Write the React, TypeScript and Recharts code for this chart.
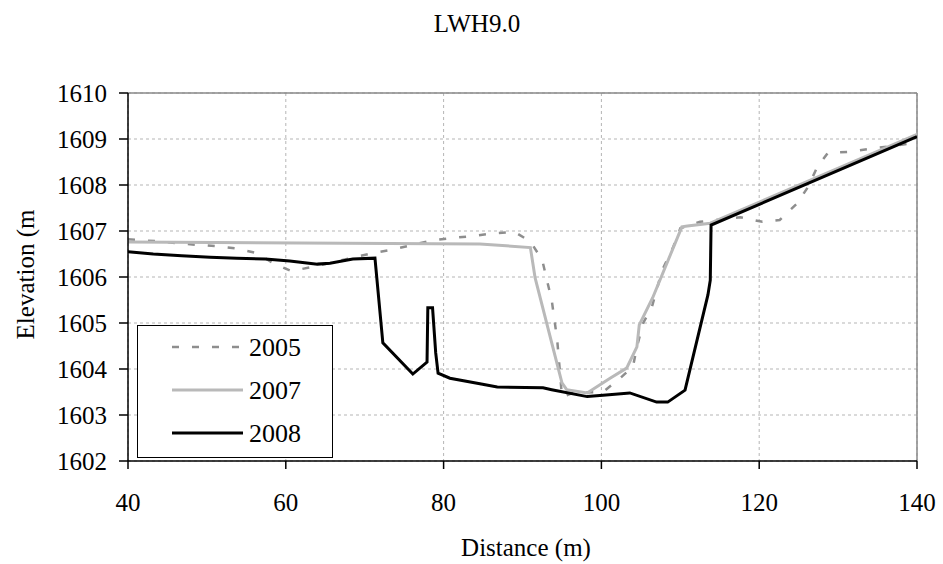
import React from 'react';
import { CartesianGrid, Line, LineChart, ReferenceLine, XAxis, YAxis } from 'recharts';

const dist2005 = [
  40, 43.4, 48.7, 51.2, 53.8, 56.3, 58.6, 60.7, 63.4, 67, 71, 73.6, 76.1, 78.7, 81.2, 83.7, 86.3, 89.0,
  91.0, 92.5, 93.1, 93.7, 94.4, 94.8, 95.0, 96.4, 100.2, 102.1, 104.0, 104.5, 105.3, 106.4, 107.7, 109.1,
  110.0, 112.5, 117.6, 120.4, 122.6, 124.8, 126.2, 127.3, 128.7, 131.3, 133.8, 140,
];
const elev2005 = [
  1606.82, 1606.78, 1606.7, 1606.67, 1606.62, 1606.52, 1606.28, 1606.13, 1606.22, 1606.36, 1606.52, 1606.6,
  1606.7, 1606.8, 1606.85, 1606.89, 1606.95, 1606.98, 1606.77, 1606.37, 1605.93, 1605.5, 1604.63, 1603.83,
  1603.39, 1603.48, 1603.5, 1603.76, 1604.05, 1604.48, 1605.0, 1605.35, 1606.15, 1606.65, 1607.06, 1607.2,
  1607.3, 1607.2, 1607.24, 1607.6, 1607.96, 1608.37, 1608.7, 1608.72, 1608.78, 1608.92,
];

const dist2007 = [40, 84.6, 91.0, 91.6, 95.0, 95.6, 98.2, 101.1, 103.2, 104.5, 104.8, 106.5, 110.2, 110.9, 113.8, 140];
const elev2007 = [
  1606.76, 1606.72, 1606.64, 1605.98, 1603.7, 1603.55, 1603.48, 1603.8, 1604.02, 1604.48, 1604.96, 1605.55,
  1607.09, 1607.11, 1607.17, 1609.1,
];

const dist2008 = [
  40, 43.2, 46.8, 50.4, 53.8, 57.4, 60.5, 64.0, 65.6, 68.5, 71.3, 72.3, 76.1, 77.9, 78.0, 78.6, 79.0, 79.3,
  80.8, 84.6, 86.8, 92.6, 93.7, 98.2, 100.2, 103.6, 107.0, 108.4, 110.6, 113.5, 113.8, 113.9, 140,
];
const elev2008 = [
  1606.55, 1606.5, 1606.46, 1606.43, 1606.41, 1606.39, 1606.35, 1606.28, 1606.3, 1606.39, 1606.41, 1604.57,
  1603.89, 1604.15, 1605.33, 1605.33, 1604.35, 1603.91, 1603.8, 1603.68, 1603.61, 1603.59, 1603.55, 1603.4,
  1603.43, 1603.48, 1603.28, 1603.28, 1603.54, 1605.61, 1605.93, 1607.13, 1609.05,
];

const xTicks = [40, 60, 80, 100, 120, 140];
const yTicks = [1602, 1603, 1604, 1605, 1606, 1607, 1608, 1609, 1610];

// Times-metric serif, the plot came out of Excel
const FONT = '"Liberation Serif", "Times New Roman", serif';

const zip = (xs: number[], ys: number[]) => xs.map((d, i) => ({ d, e: ys[i] }));

const SERIES = [
  { name: '2005', data: zip(dist2005, elev2005), color: '#8e8e8e', width: 2.5, dash: '7 13' },
  { name: '2007', data: zip(dist2007, elev2007), color: '#b9b9b9', width: 3, dash: undefined },
  { name: '2008', data: zip(dist2008, elev2008), color: '#000000', width: 3, dash: undefined },
];

const tickStyle = { fill: '#000', fontSize: 25, fontFamily: FONT };
const textStyle = { fontFamily: FONT, fontSize: 25, fill: '#000' };

export default function App() {
  return (
    <div style={{ position: 'absolute', left: 0, top: 0, width: 943, height: 564, background: '#fff' }}>
      <LineChart width={943} height={564} margin={{ top: 93, right: 26, bottom: 0, left: 0 }}>
        <CartesianGrid stroke="#b5b5b5" strokeDasharray="3 3" />
        <XAxis
          type="number"
          dataKey="d"
          domain={[40, 140]}
          ticks={xTicks}
          allowDataOverflow
          height={103}
          tick={tickStyle}
          tickSize={8}
          tickMargin={24}
          stroke="#000"
          strokeWidth={1.5}
        />
        <YAxis
          type="number"
          domain={[1602, 1610]}
          ticks={yTicks}
          allowDataOverflow
          width={128}
          tick={tickStyle}
          tickSize={9}
          tickMargin={12}
          stroke="#000"
          strokeWidth={1.5}
        />
        <ReferenceLine y={1610} stroke="#888" strokeWidth={1.5} />
        <ReferenceLine x={140} stroke="#888" strokeWidth={1.5} />
        {SERIES.map((s) => (
          <Line
            key={s.name}
            data={s.data}
            dataKey="e"
            name={s.name}
            type="linear"
            stroke={s.color}
            strokeWidth={s.width}
            strokeDasharray={s.dash}
            dot={false}
            activeDot={false}
            isAnimationActive={false}
          />
        ))}
      </LineChart>
      <svg width={943} height={564} style={{ position: 'absolute', left: 0, top: 0, pointerEvents: 'none' }}>
        <text x={477} y={32} textAnchor="middle" style={textStyle}>
          LWH9.0
        </text>
        <text x={34} y={274.5} textAnchor="middle" style={textStyle} transform="rotate(-90 34 274.5)">
          Elevation (m
        </text>
        <text x={526} y={556} textAnchor="middle" style={textStyle}>
          Distance (m)
        </text>
        <rect x={137.5} y={325.5} width={195} height={132} fill="#fff" stroke="#000" strokeWidth={1} />
        {SERIES.map((s, i) => (
          <g key={s.name}>
            <line
              x1={172}
              x2={243}
              y1={347 + i * 43}
              y2={347 + i * 43}
              stroke={s.color}
              strokeWidth={s.width}
              strokeDasharray={s.dash}
            />
            <text x={249} y={355.5 + i * 43} style={{ ...textStyle, fontSize: 26 }}>
              {s.name}
            </text>
          </g>
        ))}
      </svg>
    </div>
  );
}
